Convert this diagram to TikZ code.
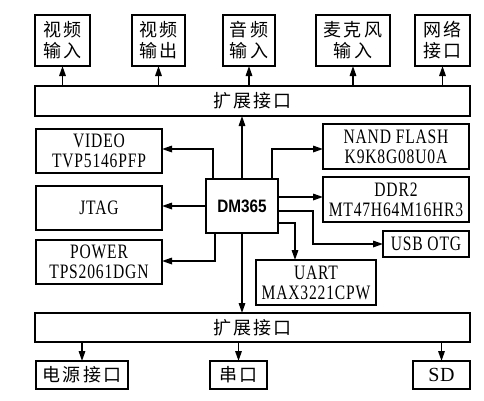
\documentclass[tikz,border=0pt]{standalone}
\usepackage{fontspec}
\usetikzlibrary{arrows.meta,calc}
\setmainfont{Liberation Serif}
\newfontfamily\latfont[FakeStretch=0.76,LetterSpace=4]{Liberation Serif}
\newfontfamily\sdfont[LetterSpace=4]{Liberation Serif}
\newfontfamily\cjk[LetterSpace=12]{Noto Sans CJK SC}
\newfontfamily\dmfont[FakeStretch=0.85]{Liberation Sans}
\tikzset{
  box/.style={draw, line width=1.7pt, inner sep=0pt, outer sep=0pt, align=center},
  cn/.style={font=\cjk\fontsize{18}{21}\selectfont},
  lt/.style={font=\latfont\fontsize{20.5}{20}\selectfont},
  arr/.style={line width=1.6pt, -{Triangle[length=10pt,width=6.5pt]}},
}
\begin{document}
\begin{tikzpicture}[x=1pt,y=-1pt]
\useasboundingbox (0,0) rectangle (484,400);
% top boxes
\node[box,cn,minimum width=55pt,minimum height=51pt] (v1) at (62.5,40.5) {视频\\输入};
\node[box,cn,minimum width=53pt,minimum height=51pt] (v2) at (158.5,40.5) {视频\\输出};
\node[box,cn,minimum width=52pt,minimum height=51pt] (a1) at (249,40.5) {音频\\输入};
\node[box,cn,minimum width=74pt,minimum height=51pt] (m1) at (353,40.5) {麦克风\\输入};
\node[box,cn,minimum width=55pt,minimum height=51pt] (n1) at (442.5,40.5) {网络\\接口};
% bars
\node[box,cn,minimum width=435pt,minimum height=30pt] (topbar) at (252.5,101) {扩展接口};
\node[box,cn,minimum width=435pt,minimum height=29pt] (botbar) at (252.5,327.5) {扩展接口};
% left boxes
\node[box,lt,minimum width=126pt,minimum height=44pt] (video) at (99,151) {VIDEO\\TVP5146PFP};
\node[box,lt,minimum width=126pt,minimum height=44pt] (jtag) at (99,208) {JTAG};
\node[box,lt,minimum width=126pt,minimum height=44pt] (power) at (99,262) {POWER\\TPS2061DGN};
% centre
\node[box,font=\dmfont\bfseries\fontsize{18}{20}\selectfont,minimum width=72pt,minimum height=54pt] (dm) at (242,206) {DM365};
% right boxes
\node[box,lt,minimum width=146pt,minimum height=45pt] (nand) at (396,146.5) {NAND FLASH\\K9K8G08U0A};
\node[box,lt,minimum width=146pt,minimum height=45pt] (ddr) at (396,199.5) {DDR2\\MT47H64M16HR3};
\node[box,lt,minimum width=86pt,minimum height=26pt] (usb) at (426,244) {USB OTG};
\node[box,lt,minimum width=120pt,minimum height=45pt] (uart) at (316,282.5) {UART\\MAX3221CPW};
% bottom boxes
\node[box,cn,minimum width=92pt,minimum height=28pt] (pwr) at (82,375) {电源接口};
\node[box,cn,minimum width=57pt,minimum height=28pt] (ser) at (238.5,375) {串口};
\node[box,font=\sdfont\fontsize{20}{20}\selectfont,minimum width=57pt,minimum height=28pt] (sd) at (441.5,375) {SD};
% top arrows
\foreach \n in {v1,v2,a1,m1,n1}
  \draw[arr] (\n.south |- topbar.north) -- (\n.south);
% bottom arrows
\foreach \n in {pwr,ser,sd}
  \draw[arr] (\n.north |- botbar.south) -- (\n.north);
% DM365 links
\coordinate (pv) at ($(dm.north west)+(7,0)$);
\coordinate (pp) at ($(dm.south west)+(9,0)$);
\coordinate (pn) at ($(dm.north east)+(-6,0)$);
\coordinate (pd) at ($(dm.east)+(0,-9)$);
\coordinate (pu) at ($(dm.east)+(0,5)$);
\coordinate (pa) at ($(dm.east)+(0,17)$);
\coordinate (ua) at ($(uart.north west)+(39,0)$);
\draw[arr] (dm.north) -- (dm.north |- topbar.south);
\draw[arr] (dm.south) -- (dm.south |- botbar.north);
\draw[arr] (pv) |- ($(video.east)+(0,-2)$);
\draw[arr] (dm.west) -- (dm.west -| jtag.east);
\draw[arr] (pp) |- ($(power.east)+(0,-1)$);
\draw[arr] (pn) |- ($(nand.west)+(0,2.5)$);
\draw[arr] (pd) -- (pd -| ddr.west);
\draw[arr] (pu) -- ++(35,0) |- (usb.west);
\draw[arr] (pa) -| (ua);
\end{tikzpicture}
\end{document}
